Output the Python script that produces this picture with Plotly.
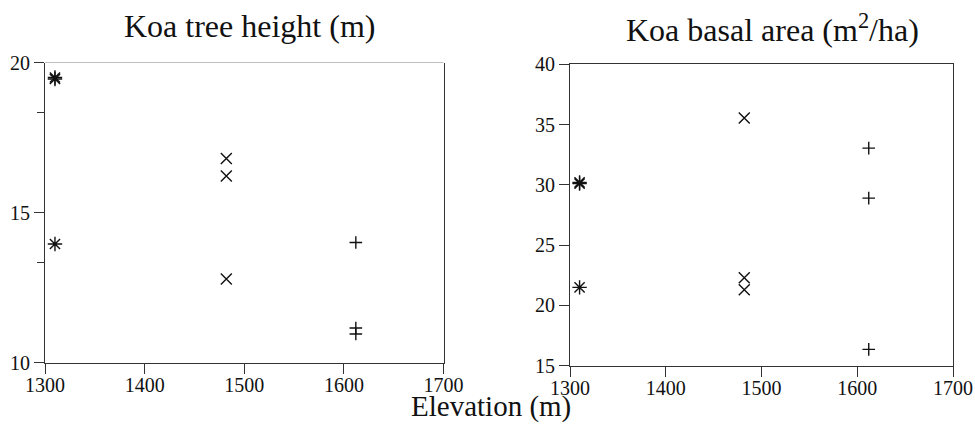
import plotly.graph_objects as go

# ---- data ----
sites = ["low", "mid", "high"]
elev_low = [1310, 1310, 1310]
elev_mid = [1482, 1482, 1482]
elev_high = [1612, 1612, 1612]

height_low = [19.5, 19.45, 13.95]
height_mid = [16.8, 16.22, 12.78]
height_high = [14.0, 11.15, 10.95]

basal_low = [30.1, 30.2, 21.5]
basal_mid = [35.55, 22.3, 21.3]
basal_high = [33.05, 28.9, 16.35]

x_ticks = [1300, 1400, 1500, 1600, 1700]
h_ticks = [10, 15, 20]
h_minor = [13.333, 18.333]
b_ticks = [15, 20, 25, 30, 35, 40]

W, H = 975, 446
def px(x):
    return x / W
def py(y):
    return (H - y) / H

FONT = "Liberation Serif"
BLACK = "#111111"

sym = {"low": "asterisk-open", "mid": "x-thin-open", "high": "cross-thin-open"}
size = {"low": 12, "mid": 11, "high": 9}

fig = go.Figure()
for name, ex, hv, bv in [("low", elev_low, height_low, basal_low),
                         ("mid", elev_mid, height_mid, basal_mid),
                         ("high", elev_high, height_high, basal_high)]:
    fig.add_trace(go.Scatter(x=ex, y=hv, mode="markers", xaxis="x", yaxis="y",
                             marker=dict(symbol=sym[name], size=size[name], color=BLACK,
                                         line=dict(color=BLACK, width=1.4)),
                             showlegend=False))
    fig.add_trace(go.Scatter(x=ex, y=bv, mode="markers", xaxis="x2", yaxis="y2",
                             marker=dict(symbol=sym[name], size=size[name], color=BLACK,
                                         line=dict(color=BLACK, width=1.4)),
                             showlegend=False))

def tf():
    return dict(family=FONT, size=20, color=BLACK)

def xaxis_cfg(domain, anchor, mirror):
    return dict(domain=domain, anchor=anchor, range=[1300, 1700], tickvals=x_ticks,
                ticks="outside", ticklen=10, tickcolor="#333", linecolor="#333",
                linewidth=1, showline=True, showgrid=False, zeroline=False,
                tickfont=tf(), automargin=False, mirror=mirror, ticklabelstandoff=-6)

def yaxis_cfg(domain, anchor, rng, vals):
    return dict(domain=domain, anchor=anchor, range=rng, tickvals=vals,
                ticks="outside", ticklen=10, tickcolor="#333", linecolor="#333",
                linewidth=1, showline=True, showgrid=False, zeroline=False,
                tickfont=tf(), automargin=False, mirror=True)

ya = yaxis_cfg([py(362.5), py(62.5)], "x", [10, 20], h_ticks)
ya["minor"] = dict(tickmode="array", tickvals=h_minor, ticks="outside", ticklen=7,
                   tickcolor="#333")

fig.update_layout(
    width=W, height=H,
    font=dict(family=FONT, size=20, color=BLACK),
    margin=dict(l=0, r=0, t=0, b=0, autoexpand=False),
    paper_bgcolor="white", plot_bgcolor="white",
    xaxis=xaxis_cfg([px(45), px(443.5)], "y", False),
    yaxis=ya,
    xaxis2=xaxis_cfg([px(570), px(953)], "y2", True),
    yaxis2=yaxis_cfg([py(365.7), py(64.3)], "x2", [15, 40], b_ticks),
    shapes=[dict(type="line", xref="x domain", yref="y", x0=0, x1=1, y0=20, y1=20,
                 line=dict(color="#808080", width=1))],
    annotations=[
        dict(text="Koa tree height (m)", xref="paper", yref="paper", x=px(249), y=py(26),
             xanchor="center", yanchor="middle", showarrow=False,
             font=dict(family=FONT, size=32, color=BLACK)),
        dict(text="Koa basal area (m<sup>2</sup>/ha)", xref="paper", yref="paper", x=px(772),
             y=py(28), xanchor="center", yanchor="middle", showarrow=False,
             font=dict(family=FONT, size=32, color=BLACK)),
        dict(text="Elevation (m)", xref="paper", yref="paper", x=px(491), y=py(406),
             xanchor="center", yanchor="middle", showarrow=False,
             font=dict(family=FONT, size=29, color=BLACK)),
    ],
)

fig.write_html("out.html", config={"displayModeBar": False, "staticPlot": True},
               post_script="document.body.style.margin='0';document.body.style.overflow='hidden';")
